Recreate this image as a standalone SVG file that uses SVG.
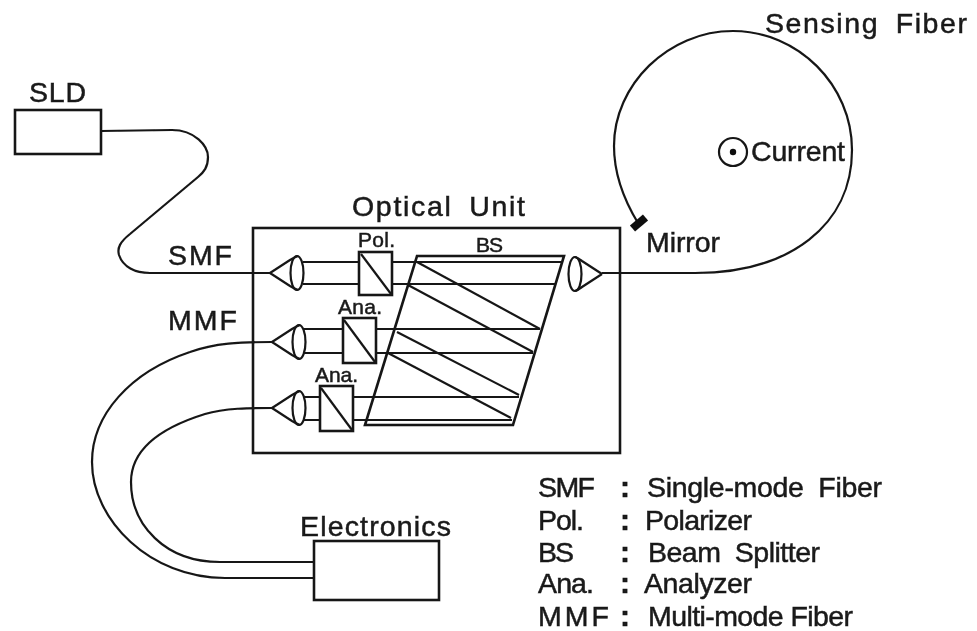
<svg xmlns="http://www.w3.org/2000/svg" width="977" height="631" viewBox="0 0 977 631">
<style>
text{font-family:"Liberation Sans",Arial,sans-serif;fill:#1a1a1a;stroke:#1a1a1a;stroke-width:.5}
.l{font-size:28.500px}.s{font-size:21px}.c{font-size:30px;font-weight:bold}
.g{word-spacing:7px}
.b{fill:none;stroke:#161616;stroke-width:2.6}
.t{fill:none;stroke:#161616;stroke-width:2.2}
</style>
<defs>
<filter id="soft" x="-2%" y="-2%" width="104%" height="104%"><feGaussianBlur stdDeviation="0.55"/></filter>
<g id="lensL"><path class="t" d="M0 0L20 -13Q25 -16 28 -17M0 0L20 13Q25 16 28 17"/><ellipse class="t" cx="27" cy="0" rx="6.500" ry="17"/></g>
</defs>
<rect width="977" height="631" fill="#fff"/>
<g filter="url(#soft)">
<g id="connectors">
<path class="t" d="M101 131L172 130C195 130 208 146 208 157C208 167 204 172 198 177L130 234C120 242 117 248 119 255C123 267 135 273 150 273L270 273"/>
<path class="t" d="M272 342C240 342 215 343 190 352C130 372 92 415 92 462C92 520 150 578 225 578L315 578"/>
<path class="t" d="M272 408C250 408 225 408 205 414C160 428 131 450 131 482C131 525 165 562 220 562L315 562"/>
<path class="t" d="M602 273L695 273C790 273 852 225 852 150C852 85 798 31 733 31C668 31 614 85 614 146C614 175 624 200 638 223"/>
<path class="t" d="M303 262H359M303 284H359M392 262H562M392 284H556"/>
<path class="t" d="M303 329H343M303 353H343M376 329H540M376 353H533"/>
<path class="t" d="M303 397H320M303 420H320M353 397H519M353 420H512"/>
</g>
<g id="sld"><rect class="b" x="15" y="110" width="86" height="44"/><text class="l" x="29" y="102" textLength="57">SLD</text></g>
<g id="optical-unit"><rect class="b" x="253" y="228" width="367" height="225"/><text class="l g" x="352" y="216" textLength="173">Optical Unit</text></g>
<g id="beam-splitter"><path class="b" d="M417 256H564L513 425H365Z"/><path class="t" d="M417 262L540 329M408 285L533 352M397 332L519 395M388 353L511 418"/><text class="s" x="476" y="252" textLength="27">BS</text></g>
<g id="lens-1"><use href="#lensL" x="270" y="273"/></g>
<g id="lens-2"><use href="#lensL" x="272" y="342"/></g>
<g id="lens-3"><use href="#lensL" x="272" y="408"/></g>
<g id="lens-4"><path class="t" d="M602 274L582 261Q578 258 575 257M602 274L582 287Q578 290 575 291"/><ellipse class="t" cx="575" cy="274" rx="6.500" ry="17"/></g>
<g id="polarizer"><rect class="b" x="359" y="252" width="33" height="43"/><path class="t" d="M361 254L391 294"/><text class="s" x="358" y="247" textLength="37">Pol.</text></g>
<g id="analyzer-1"><rect class="b" x="343" y="318" width="33" height="45"/><path class="t" d="M344 320L375 362"/><text class="s" x="338" y="314" textLength="44">Ana.</text></g>
<g id="analyzer-2"><rect class="b" x="320" y="386" width="33" height="45"/><path class="t" d="M321 388L352 430"/><text class="s" x="315" y="382" textLength="43">Ana.</text></g>
<g id="electronics"><rect class="b" x="314" y="541" width="125" height="59"/><text class="l" x="300" y="536" textLength="151">Electronics</text></g>
<g id="mirror"><rect x="630.500" y="219" width="17" height="8" fill="#111" transform="rotate(-40 639 223)"/><text class="l" x="646" y="252" textLength="74">Mirror</text></g>
<g id="current"><circle class="t" cx="733" cy="152" r="14"/><circle cx="733" cy="152" r="3.200" fill="#111"/><text class="l" x="751" y="161" textLength="94">Current</text></g>
<text id="sensing-label" class="l g" x="765" y="33" textLength="202">Sensing Fiber</text>
<text id="smf-label" class="l" x="168" y="265" textLength="64">SMF</text>
<text id="mmf-label" class="l" x="168" y="330" textLength="69">MMF</text>
<g id="legend">
<text class="l" x="538" y="497" textLength="57">SMF</text><text class="c" x="620" y="497">:</text><text class="l g" x="647" y="497" textLength="235">Single-mode Fiber</text>
<text class="l" x="538" y="530" textLength="46">Pol.</text><text class="c" x="620" y="530">:</text><text class="l" x="645" y="530" textLength="107">Polarizer</text>
<text class="l" x="538" y="562" textLength="36">BS</text><text class="c" x="620" y="562">:</text><text class="l g" x="648" y="562" textLength="172">Beam Splitter</text>
<text class="l" x="538" y="593" textLength="56">Ana.</text><text class="c" x="620" y="593">:</text><text class="l" x="644" y="593" textLength="108">Analyzer</text>
<text class="l" x="538" y="626" textLength="71">MMF</text><text class="c" x="620" y="626">:</text><text class="l" x="648" y="626" textLength="205">Multi-mode Fiber</text>
</g>
</g>
</svg>
